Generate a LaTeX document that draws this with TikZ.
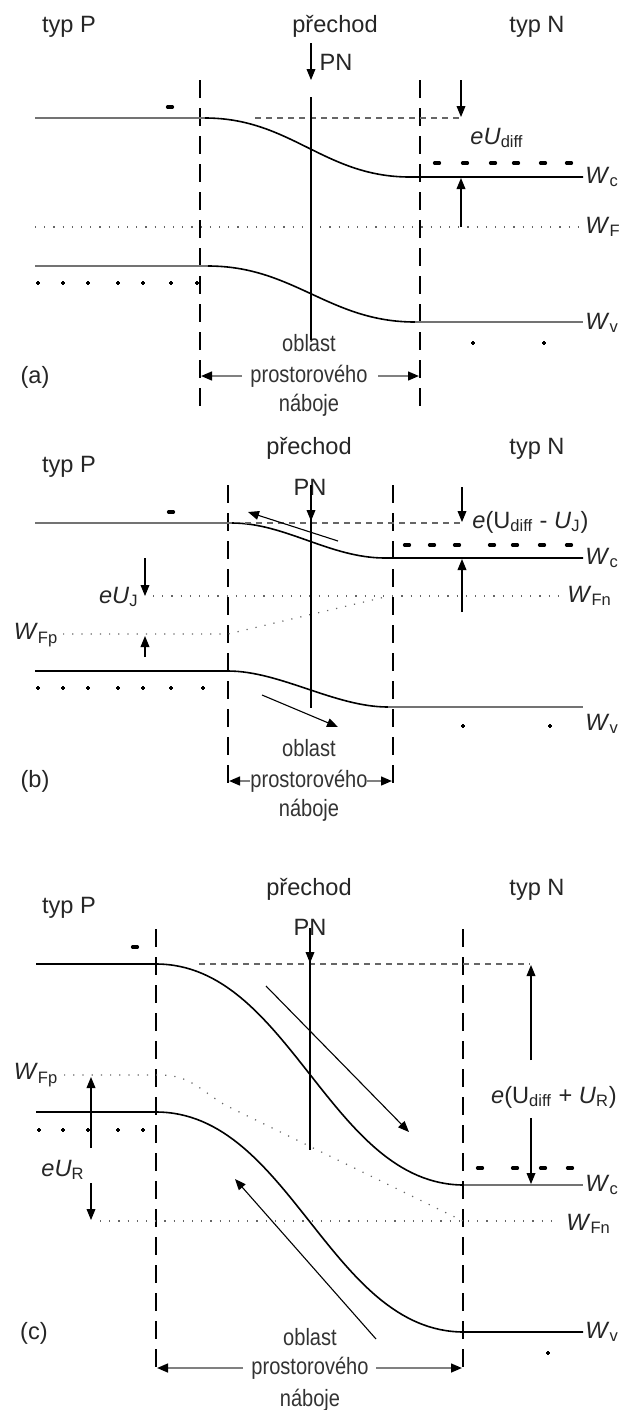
\documentclass[tikz,border=0pt]{standalone}
\usepackage{fontspec}
\setmainfont{Liberation Sans}
\newfontfamily\narrowfont{Liberation Sans}[FakeStretch=0.85]
\usetikzlibrary{arrows.meta}
\tikzset{
  txt/.style={font=\fontsize{11.8}{13}\selectfont, text=black!85, inner sep=0pt},
  ntxt/.style={font=\fontsize{11.8}{13}\selectfont\narrowfont, text=black!80, inner sep=0pt},
  band/.style={line width=0.8pt, black},
  gband/.style={line width=1pt, black!55},
  vdash/.style={line width=0.65pt, black, dash pattern=on 9pt off 5pt},
  hdash/.style={line width=0.75pt, black!60, dash pattern=on 3pt off 2.5pt},
  fdot/.style={line width=0.6pt, black!60, dash pattern=on 0.6pt off 4pt},
  arr/.style={line width=0.55pt, black, -{Triangle[length=5.5pt,width=4.4pt]}},
  garr/.style={line width=1pt, black!50, -{Triangle[length=5.5pt,width=4.4pt,color=black]}},
  negsign/.pic={\draw[line width=1.6pt, black, line cap=round] (-2.5,0) -- (2.5,0);},
  possign/.pic={\draw[line width=0.8pt, black] (-2,0) -- (2,0) (0,-2) -- (0,2);}
}
\begin{document}
\begin{tikzpicture}[x=0.5pt,y=-0.5pt]
\fill[white] (0,0) rectangle (625,1410);
\useasboundingbox (0,0) rectangle (625,1410);

% ================= panel (a) =================
\node[txt] (aTypP) at (69,27) {typ P};
\node[txt] (aPrech) at (335,26) {přechod};
\node[txt] (aPN) at (336,62) {PN};
\node[txt] (aTypN) at (537,27) {typ N};
\node[txt] (aEU) at (497,138) {\textit{eU}\textsubscript{diff}};
\node[txt,anchor=west] (aWc) at (585,177) {\textit{W}\textsubscript{c}};
\node[txt,anchor=west] (aWF) at (585,227) {\textit{W}\textsubscript{F}};
\node[txt,anchor=west] (aWv) at (585,323) {\textit{W}\textsubscript{v}};
\node[txt] (aLab) at (35,377) {(a)};
\node[ntxt] (aObl) at (309,343) {oblast};
\node[ntxt] (aPro) at (309,376) {prostorového};
\node[ntxt] (aNab) at (309,405) {náboje};

\draw[vdash] (200,80) -- (200,413);
\draw[vdash] (420,80) -- (420,413);
\draw[gband] (35,118) -- (205,118);
\draw[band] (205,118) .. controls (291,118) and (324,177) .. (410,177) -- (583,177);
\draw[gband] (35,266) -- (208,266);
\draw[band] (208,266) .. controls (294,266) and (329,322) .. (415,322);
\draw[gband] (415,322) -- (583,322);
\draw[fdot] (35,227) -- (583,227);
\draw[hdash] (255,118) -- (461,118);
\draw[arr] (461,80) -- (461,117);
\draw[arr] (461,227) -- (461,178);
\draw[arr] (311,43) -- (311,80);
\draw[line width=0.65pt] (311,97) -- (311,340);
\draw[garr] (242,376) -- (201,376);
\draw[garr] (378,376) -- (419,376);
\pic at (170,107) {negsign};
\foreach \x in {437,465,493,516,543,569} \pic at (\x,163) {negsign};
\foreach \x in {38,63,88,118,143,171,197} \pic at (\x,283) {possign};
\foreach \x in {473,544} \pic at (\x,343) {possign};

% ================= panel (b) =================
\node[txt] (bTypP) at (69,467) {typ P};
\node[txt] (bPrech) at (309,448) {přechod};
\node[txt] (bPN) at (310,487) {PN};
\node[txt] (bTypN) at (537,449) {typ N};
\node[txt,anchor=west] (bEU) at (472,522) {\textit{e}(U\textsubscript{diff} - \textit{U}\textsubscript{J})};
\node[txt,anchor=west] (bWc) at (585,558) {\textit{W}\textsubscript{c}};
\node[txt,anchor=west] (bWFn) at (567,596) {\textit{W}\textsubscript{Fn}};
\node[txt,anchor=east] (bEUJ) at (139,597) {\textit{eU}\textsubscript{J}};
\node[txt] (bWFp) at (36,635) {\textit{W}\textsubscript{Fp}};
\node[txt,anchor=west] (bWv) at (585,724) {\textit{W}\textsubscript{v}};
\node[txt] (bLab) at (35,781) {(b)};
\node[ntxt] (bObl) at (309,748) {oblast};
\node[ntxt] (bPro) at (309,781) {prostorového};
\node[ntxt] (bNab) at (309,810) {náboje};

\draw[vdash] (228,485) -- (228,792);
\draw[vdash] (393,485) -- (393,792);
\draw[gband] (35,523) -- (232,523);
\draw[band] (232,523) .. controls (285,523) and (330,558) .. (385,558) -- (583,558);
\draw[hdash] (245,523) -- (461,523);
\draw[arr] (462,487) -- (462,522);
\draw[arr] (462,612) -- (462,559);
\draw[fdot] (153,596) -- (558,596);
\draw[fdot] (63,634) -- (228,634) -- (385,597);
\draw[arr] (145,558) -- (145,596);
\draw[arr] (145,657) -- (145,636);
\draw[band] (35,671) -- (228,671) .. controls (280,671) and (335,707) .. (388,707);
\draw[gband] (388,707) -- (583,707);
\draw[arr] (311,485) -- (311,521);
\draw[line width=0.65pt] (311,485) -- (311,708);
\draw[arr] (338,541) -- (248,512);
\draw[arr] (262,695) -- (338,727);
\draw[garr] (250,781) -- (229,781);
\draw[garr] (367,781) -- (392,781);
\pic at (171,512) {negsign};
\foreach \x in {407,432,457,492,515,542,569} \pic at (\x,545) {negsign};
\foreach \x in {38,63,88,118,143,171,203} \pic at (\x,688) {possign};
\foreach \x in {463,550} \pic at (\x,726) {possign};

% ================= panel (c) =================
\node[txt] (cTypP) at (69,908) {typ P};
\node[txt] (cPrech) at (309,889) {přechod};
\node[txt] (cPN) at (310,927) {PN};
\node[txt] (cTypN) at (537,890) {typ N};
\node[txt] (cWFp) at (36,1075) {\textit{W}\textsubscript{Fp}};
\node[txt] (cEU) at (554,1097) {\textit{e}(U\textsubscript{diff} + \textit{U}\textsubscript{R})};
\node[txt] (cEUR) at (63,1170) {\textit{eU}\textsubscript{R}};
\node[txt,anchor=west] (cWc) at (585,1185) {\textit{W}\textsubscript{c}};
\node[txt,anchor=west] (cWFn) at (566,1224) {\textit{W}\textsubscript{Fn}};
\node[txt,anchor=west] (cWv) at (585,1332) {\textit{W}\textsubscript{v}};
\node[txt] (cLab) at (34,1333) {(c)};
\node[ntxt] (cObl) at (310,1337) {oblast};
\node[ntxt] (cPro) at (310,1368) {prostorového};
\node[ntxt] (cNab) at (310,1400) {náboje};

\draw[vdash] (156,929) -- (156,1371);
\draw[vdash] (463,929) -- (463,1371);
\draw[band] (36,964) -- (156,964) .. controls (290,964) and (330,1185) .. (464,1185);
\draw[gband] (464,1185) -- (583,1185);
\draw[band] (36,1112) -- (156,1112) .. controls (290,1112) and (330,1332) .. (464,1332) -- (583,1332);
\draw[hdash] (199,964) -- (530,964);
\draw[fdot] (64,1075) -- (160,1075) .. controls (190,1075) and (200,1090) .. (225,1105) -- (463,1221);
\draw[fdot] (100,1221) -- (558,1221);
\draw[arr] (531,1060) -- (531,965);
\draw[arr] (531,1118) -- (531,1184);
\draw[arr] (91,1148) -- (91,1077);
\draw[arr] (91,1183) -- (91,1220);
\draw[arr] (310,928) -- (310,963);
\draw[line width=0.65pt] (310,928) -- (310,1150);
\draw[arr] (266,986) -- (409,1132);
\draw[arr] (376,1339) -- (235,1179);
\draw[garr] (243,1368) -- (157,1368);
\draw[garr] (376,1368) -- (462,1368);
\pic at (135,947) {negsign};
\foreach \x in {480,515,543,570} \pic at (\x,1168) {negsign};
\foreach \x in {39,63,88,118,143} \pic at (\x,1130) {possign};
\pic at (548,1353) {possign};
\end{tikzpicture}
\end{document}
